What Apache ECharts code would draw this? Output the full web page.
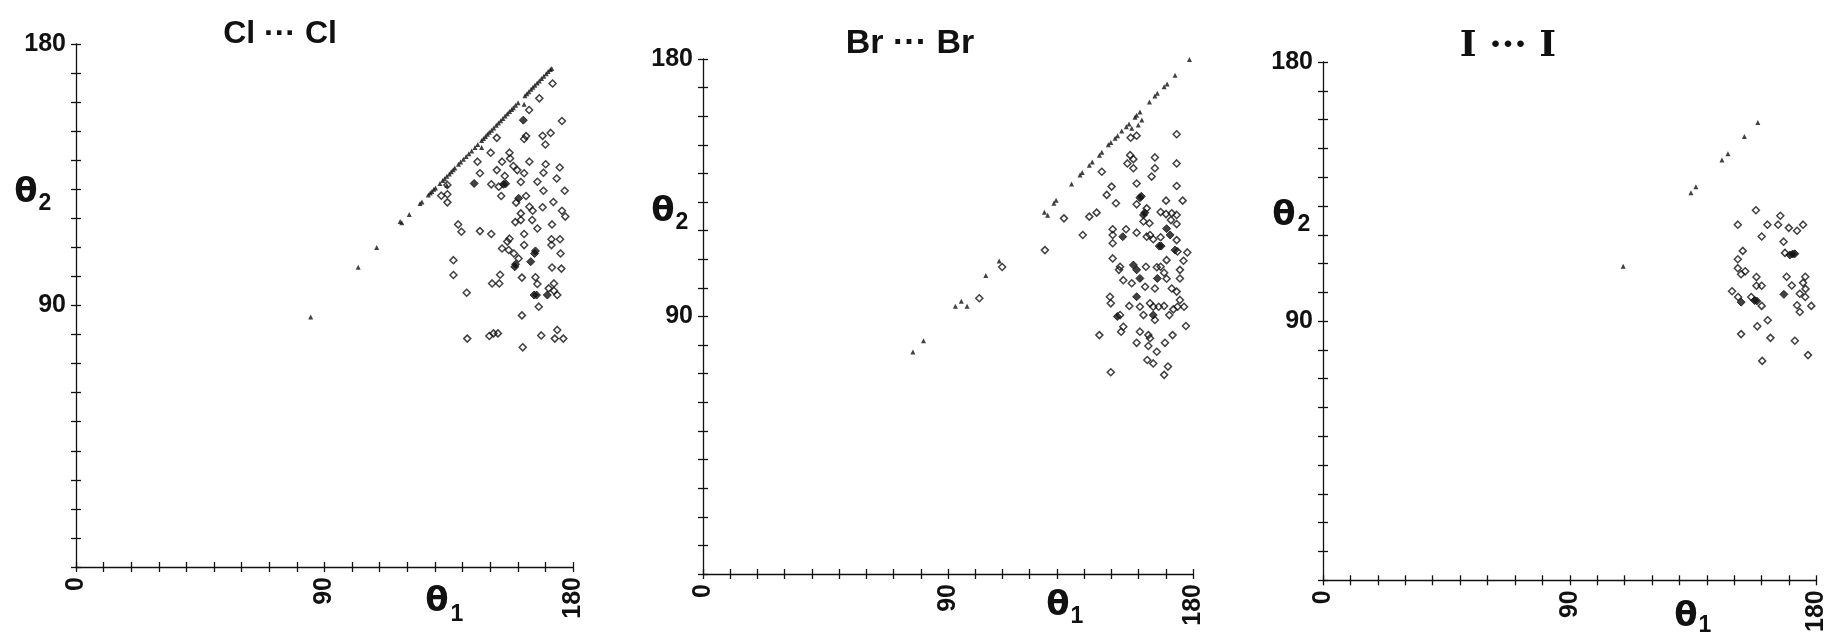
<!DOCTYPE html>
<html><head><meta charset="utf-8">
<script src="https://cdn.jsdelivr.net/npm/echarts@6/dist/echarts.min.js"></script>
<style>html,body{margin:0;padding:0;background:#fff}#c{width:1829px;height:635px}</style>
</head><body><div id="c"></div>
<script>
// ---------------- data (θ1, θ2 in degrees) ----------------
const axisMin = 0, axisMax = 180, tickStep = 10;
const xTickLabels = [0, 90, 180];
const yTickLabels = [90, 180];
const panelTitles = ['Cl ··· Cl', 'Br ··· Br', 'I ··· I'];

const clTriangles = [[85,86],[102.2,103.2],[108.9,110],[117.4,118.9],[118,118.5],[120.7,121.3],[124.6,125.1],[125.3,125.6],[127.6,128],[128.3,128.7],[128.9,129.2],[129.6,130],[130.2,130.4],[131.8,132],[132.8,133],[133.5,133.6],[134.3,134.5],[135.2,135.3],[135.9,136],[136.6,136.7],[137.2,137.3],[138.5,138.6],[139.3,139.4],[140.3,140.3],[141.3,141.3],[142.3,142.2],[143.3,143.2],[144.5,144.4],[145.5,145.4],[146.9,146.8],[147.6,147.5],[148.3,148.2],[149,148.9],[149.7,149.6],[150.5,150.3],[151.3,151.1],[152.2,152],[153,152.8],[153.8,153.6],[154.6,154.4],[155.4,155.2],[156.2,156],[157,156.8],[157.8,157.5],[158.4,158.1],[159.2,158.9],[160.1,159.8],[162.6,162.2],[163.3,162.9],[164,163.6],[164.8,164.4],[165.5,165.1],[166.2,165.8],[167,166.6],[167.8,167.3],[168.6,168.1],[169.4,168.9],[170.3,169.8],[171,170.5],[171.8,171.2],[172.3,171.6],[162.3,159.3],[134.3,131.4],[146.9,144.4]];
const clOpen = [[172.6,166.4],[167.8,161.3],[164.1,157.3],[176,153.5],[152.4,147.7],[163,148.3],[162.3,147.3],[169,148.4],[171.9,149.4],[170,145.4],[150.2,142.6],[157,142.6],[157.2,140.6],[145.4,139.5],[154.3,139.5],[164.2,139.5],[158.4,138],[170.1,138.6],[175.2,137.5],[146.3,135.5],[152.4,136.6],[159.8,136.6],[162.3,135.5],[155.3,134.6],[169.3,135.7],[174.1,133.7],[150.4,131.7],[153.1,130.9],[161.1,132.5],[167.1,132.6],[134.5,131.5],[132.3,127.8],[134.5,128.3],[134.5,125.5],[154,127.7],[163,127.7],[159.4,125.4],[169.3,129.5],[177,129.5],[172.9,125.6],[164.2,124],[165.4,122.6],[169,123.8],[176,122.6],[177.2,120.6],[161.1,121.7],[159.1,118.7],[161.1,119.4],[165.2,119.4],[167.1,116.5],[172.4,117.9],[138.4,117.9],[139.6,115.4],[146.3,115.6],[150.4,114.6],[162.3,114.6],[157,113],[156.2,112],[172.2,112.8],[172.2,110.8],[175.3,112.8],[154.3,109.6],[156.7,109.1],[158.6,107.9],[160.3,106.2],[175.5,107.9],[162.3,110.8],[136.7,105.6],[136.7,100.5],[150.7,97.6],[153.3,97.6],[153.6,100.6],[161.5,99.6],[166.4,99.7],[167.1,97.4],[173.1,97.6],[172.4,103.1],[175.8,102.7],[171.2,95.9],[173.1,95.1],[174.3,93.6],[141.5,94.4],[167.6,89.6],[161.5,86.6],[141.7,78.6],[149.7,79.5],[151.2,80.4],[152.8,80.4],[168.5,79.7],[174.3,81.6],[173.4,78.6],[176.5,78.6],[161.8,75.6]];
const clFilled = [[162,153.8],[144.2,132],[154.8,131.7],[155.6,131.9],[160.3,126.9],[158.9,103.3],[159.2,104.2],[166.1,107.9],[166.4,108.8],[164.7,105.1],[165.9,93.6],[166.8,93.6],[170.7,93.6]];

const brTriangles = [[77.1,77.6],[81,81.5],[92.7,93.6],[94.9,95.3],[97,93.6],[103.9,104.3],[108.8,109.4],[125.4,126.4],[126.6,125.4],[128.9,129.6],[129.7,130.6],[135.4,136.3],[138.5,139.5],[139.3,140.3],[141.9,142.9],[143,144],[145.6,146.4],[146.5,147.4],[148.9,150],[149.8,150.8],[151.4,152.3],[152.3,153.2],[153.8,154.8],[155.5,156.3],[156.5,157.3],[158.7,159.6],[159.3,160.3],[160.5,161.5],[161.2,158.7],[159.9,156.9],[157.5,155.8],[164,165],[166,167.1],[166.9,168],[169.4,170.3],[170.5,171.3],[173.4,174.3],[178.7,179.8]];
const brOpen = [[174,153.7],[157.1,152.5],[159.3,153.2],[174,143.5],[156.9,146.4],[158.1,145],[155.9,143.5],[158.1,141.8],[166,145.6],[166,141.8],[164.8,138.9],[146.5,140.6],[174,135.6],[159.3,136.5],[150.1,135.4],[148.3,132.5],[151.7,129.6],[159.3,129.2],[163,127.8],[170.1,130.5],[176.2,130.5],[168.1,126.5],[170.1,125.8],[172.2,126.1],[174,125.5],[171.9,123.7],[174,122.3],[161.8,123.2],[164,122.6],[141.9,124.9],[144.6,126.3],[132.6,124.3],[139.5,118.5],[125.6,113.2],[150.5,120.5],[150.5,118.5],[155.4,120.5],[159.3,119.3],[163,117.9],[164.2,118.5],[165.4,117],[168.1,117.7],[174,116.7],[150.5,115.6],[174.3,112.7],[177.9,112.4],[150.5,110.3],[153.2,107.4],[152.8,106.3],[162.4,100.4],[162.7,107.4],[166.7,107.2],[168.1,107.4],[169.4,105.3],[170.3,103.2],[175.2,106.3],[175.2,103.3],[176.5,109.5],[170.3,109.7],[154.4,102.7],[157.5,101.6],[166,99.8],[172.2,99.8],[174,98.7],[175.2,95.8],[174.3,93.4],[176.7,93.4],[149.5,96.9],[149.8,94.6],[156.6,93.7],[160.5,93.4],[164.2,94.6],[165.4,93.4],[167.4,93.4],[169.4,93.7],[172.8,92.5],[171.3,90.5],[166,88.8],[161.8,90.5],[153.2,90.5],[154.4,86.4],[153.6,84.7],[145.6,83.5],[160.5,84.7],[163.6,83.5],[164.2,82.4],[159.3,80.8],[163.6,79.7],[166.7,77.7],[169.7,80.8],[172.5,83.5],[177.4,86.7],[163.2,74.8],[165.4,73.6],[170.8,72.5],[169.4,69.6],[149.8,70.5],[101.5,96.4],[109.9,107.3]];
const brFilled = [[160.5,131.5],[161,132],[161.8,125.5],[162.3,126.3],[154.2,117.9],[170.3,120.7],[171.6,118.5],[167.6,114.6],[168.3,114.6],[173.4,113.2],[158.1,108],[159.3,106.3],[160.5,103.3],[166.9,103.3],[159.3,96.9],[165.4,90.5],[152.2,90]];

const iTriangles = [[109.5,109.1],[134.2,134.6],[136,136.7],[145.5,146],[147.7,148.1],[153.7,154.1],[158.6,159]];
const iOpen = [[157.9,128.5],[151.3,123.5],[162.1,123.5],[166.8,126.6],[166,123.5],[169.9,122.4],[172.9,121.4],[175.1,123.5],[160,119.4],[168,117.6],[153.1,114.4],[151.3,111.5],[151.3,108.4],[152.5,106.3],[154,107.3],[158.1,105.3],[158.1,102.3],[160,102.3],[169.1,105.4],[171,102.4],[175.1,103.3],[175.9,105.4],[176,101.2],[149.2,100.4],[151.4,98.4],[156.2,98.4],[160,95.3],[168.5,113.7],[172.9,95.5],[173.9,93.2],[173.9,99.5],[175.9,98.4],[178.1,95.3],[162.2,90.3],[158.4,88.2],[152.5,85.5],[163.2,84.2],[172.1,83.2],[176.9,78.2],[160.2,76.2]];
const iFilled = [[152.5,96.6],[157.4,97.2],[158.2,97],[168.1,99.3],[170.3,113],[171.3,113.3],[172.1,113.4]];

// ---------------- layout / styles ----------------
const grids = [
  {left: 76, top: 44, width: 497, height: 523},
  {left: 703, top: 59, width: 490, height: 515},
  {left: 1323, top: 62, width: 499, height: 521}
];
const titlePos = [[280, 34, 32, 'Liberation Sans'], [910, 44, 34, 'Liberation Sans'], [1508, 47, 36, 'DejaVu Serif']];
const theta2Pos = [[26, 193, 45, 204], [663, 212, 682, 223], [1284, 216, 1304, 225]];
const theta1Pos = [[437, 602, 457, 615], [1058, 606, 1077, 617], [1686, 617, 1705, 626]];

const INK = '#111';
const LBL = {color: INK, fontFamily: 'Liberation Sans', fontWeight: 'bold', fontSize: 25};
const THETA_FONT = 'bold 34px "DejaVu Sans"';
const SUB_FONT = 'bold 23px "Liberation Sans"';

const panels = [[clTriangles, clOpen, clFilled], [brTriangles, brOpen, brFilled], [iTriangles, iOpen, iFilled]];

const xAxes = [], yAxes = [], series = [], graphics = [];
panels.forEach((p, i) => {
  const base = {gridIndex: i, type: 'value', min: axisMin, max: axisMax, interval: tickStep, splitLine: {show: false}};
  xAxes.push(Object.assign({}, base, {
    position: 'bottom',
    axisLine: {show: true, lineStyle: {color: INK, width: 1.3}},
    axisTick: {show: true, length: 5, lineStyle: {color: INK, width: 1.3}},
    axisLabel: Object.assign({}, LBL, {rotate: 90, margin: 10,
      formatter: v => xTickLabels.includes(v) ? String(v) : ''})
  }));
  xAxes.push(Object.assign({}, base, {
    position: 'bottom', axisLine: {show: false},
    axisTick: {show: true, inside: true, length: 5, lineStyle: {color: INK, width: 1.3}},
    axisLabel: {show: false}
  }));
  yAxes.push(Object.assign({}, base, {
    position: 'left',
    axisLine: {show: true, lineStyle: {color: INK, width: 1.3}},
    axisTick: {show: true, length: 5, lineStyle: {color: INK, width: 1.3}},
    axisLabel: Object.assign({}, LBL, {margin: 10,
      formatter: v => yTickLabels.includes(v) ? String(v) : ''})
  }));
  yAxes.push(Object.assign({}, base, {
    position: 'left', axisLine: {show: false},
    axisTick: {show: true, inside: true, length: 5, lineStyle: {color: INK, width: 1.3}},
    axisLabel: {show: false}
  }));
  const ax = {xAxisIndex: 2 * i, yAxisIndex: 2 * i};
  series.push(Object.assign({type: 'scatter', data: p[0], symbol: 'triangle', symbolSize: 5,
    itemStyle: {color: INK}, silent: true}, ax));
  series.push(Object.assign({type: 'scatter', data: p[1], symbol: 'diamond', symbolSize: 7,
    itemStyle: {color: 'rgba(255,255,255,0)', borderColor: INK, borderWidth: 1.5}, silent: true}, ax));
  series.push(Object.assign({type: 'scatter', data: p[2], symbol: 'diamond', symbolSize: 8,
    itemStyle: {color: INK, borderColor: INK, borderWidth: 1}, silent: true}, ax));

  const t = titlePos[i];
  graphics.push({type: 'text', x: t[0], y: t[1], style: {text: panelTitles[i], fill: INK,
    font: 'bold ' + t[2] + 'px "' + t[3] + '"', align: 'center', verticalAlign: 'middle'}});
  const a = theta2Pos[i], b = theta1Pos[i];
  graphics.push({type: 'text', x: a[0], y: a[1], style: {text: 'θ', fill: INK, font: THETA_FONT, align: 'center', verticalAlign: 'middle'}});
  graphics.push({type: 'text', x: a[2], y: a[3], style: {text: '2', fill: INK, font: SUB_FONT, align: 'center', verticalAlign: 'middle'}});
  graphics.push({type: 'text', x: b[0], y: b[1], style: {text: 'θ', fill: INK, font: THETA_FONT, align: 'center', verticalAlign: 'middle'}});
  graphics.push({type: 'text', x: b[2], y: b[3], style: {text: '1', fill: INK, font: SUB_FONT, align: 'center', verticalAlign: 'middle'}});
});

const chart = echarts.init(document.getElementById('c'), null, {renderer: 'canvas'});
chart.setOption({
  animation: false,
  backgroundColor: '#fff',
  grid: grids.map(g => Object.assign({containLabel: false}, g)),
  xAxis: xAxes,
  yAxis: yAxes,
  series: series,
  graphic: graphics
});
</script></body></html>
